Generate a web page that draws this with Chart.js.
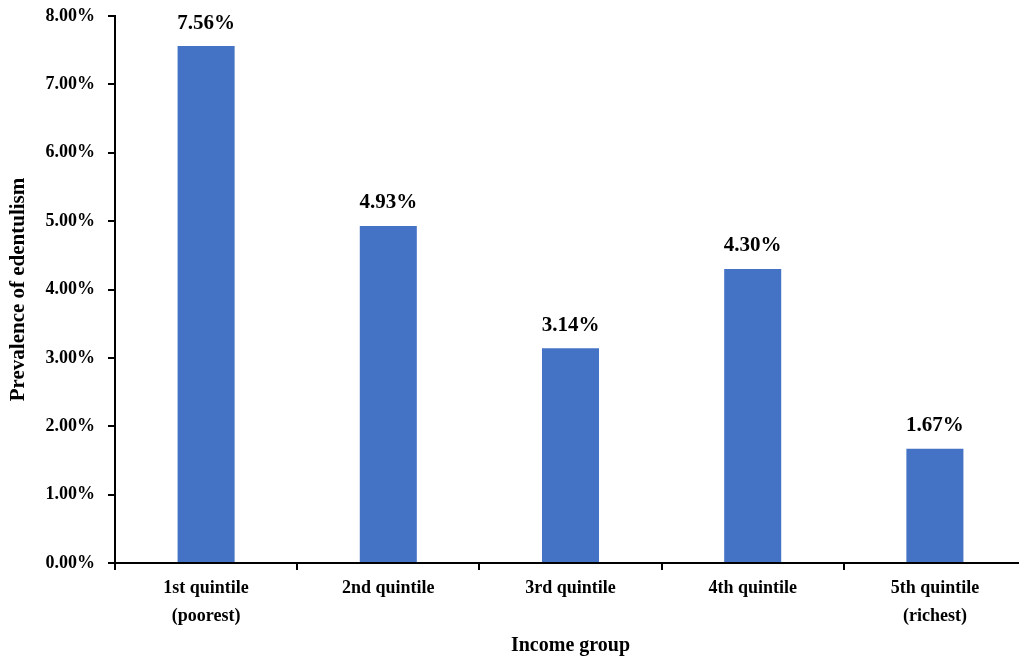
<!DOCTYPE html>
<html>
<head>
<meta charset="utf-8">
<script src="https://cdn.jsdelivr.net/npm/chart.js@4/dist/chart.umd.min.js"></script>
<style>
  html, body { margin: 0; padding: 0; background: #fff; overflow: hidden; }
  #wrap { width: 1030px; height: 660px; }
</style>
</head>
<body>
<div id="wrap"><canvas id="chart"></canvas></div>
<script>
// data
const categories = [['1st quintile', '(poorest)'], '2nd quintile', '3rd quintile', '4th quintile', ['5th quintile', '(richest)']];
const prevalence = [7.56, 4.93, 3.14, 4.30, 1.67];
const yTicks = [0, 1, 2, 3, 4, 5, 6, 7, 8];

const serif = '"Liberation Serif", "Times New Roman", serif';

// draws the percentage above each bar
const barLabels = {
    id: 'barLabels',
    afterDatasetsDraw(chart) {
        const ctx = chart.ctx;
        const meta = chart.getDatasetMeta(0);
        ctx.save();
        ctx.font = 'bold 21px ' + serif;
        ctx.fillStyle = '#000';
        ctx.textAlign = 'center';
        ctx.textBaseline = 'middle';
        meta.data.forEach((bar, i) => {
            ctx.fillText(prevalence[i].toFixed(2) + '%', bar.x, bar.y - 23);
        });
        ctx.restore();
    }
};

const ctx = document.getElementById('chart').getContext('2d');
const chart = new Chart(ctx, {
    type: 'bar',
    data: {
        labels: categories,
        datasets: [{
            data: prevalence,
            backgroundColor: '#4472C4',
            categoryPercentage: 1,
            barPercentage: 0.313
        }]
    },
    options: {
        responsive: true,
        maintainAspectRatio: false,
        animation: false,
        layout: { padding: { top: 16, right: 4, left: 0, bottom: 0 } },
        plugins: {
            legend: { display: false },
            tooltip: { enabled: false }
        },
        scales: {
            x: {
                afterFit: s => { s.height = 97; s.paddingLeft = 0; s.paddingRight = 0; },
                border: { color: '#000', width: 2 },
                grid: { offset: true, drawOnChartArea: false, tickLength: 7, color: '#000', lineWidth: 2 },
                ticks: {
                    color: '#000',
                    padding: 4,
                    maxRotation: 0,
                    font: { family: serif, size: 18, weight: 'bold', lineHeight: 1.55 }
                },
                title: {
                    display: true,
                    text: 'Income group',
                    color: '#000',
                    padding: { top: 10, bottom: 2 },
                    font: { family: serif, size: 20, weight: 'bold' }
                }
            },
            y: {
                min: 0,
                max: 8,
                afterFit: s => { s.width = 115; s.paddingTop = 0; s.paddingBottom = 0; },
                afterBuildTicks: s => { s.ticks = yTicks.map(v => ({ value: v })); },
                border: { color: '#000', width: 2 },
                grid: { drawOnChartArea: false, tickLength: 7, color: '#000', lineWidth: 2 },
                ticks: {
                    color: '#000',
                    padding: 13,
                    callback: v => v.toFixed(2) + '%',
                    font: { family: serif, size: 18, weight: 'bold' }
                },
                title: {
                    display: true,
                    text: 'Prevalence of edentulism',
                    color: '#000',
                    padding: { top: 6, bottom: 0 },
                    font: { family: serif, size: 21, weight: 'bold' }
                }
            }
        }
    },
    plugins: [barLabels]
});
</script>
</body>
</html>
